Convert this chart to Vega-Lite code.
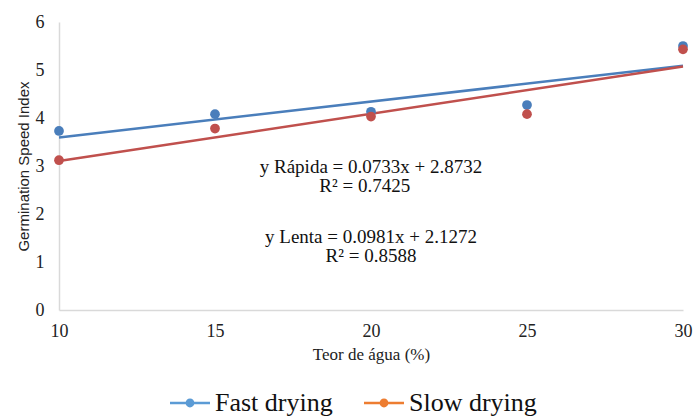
{
  "$schema": "https://vega.github.io/schema/vega-lite/v6.json",
  "width": 624,
  "height": 288,
  "autosize": "none",
  "padding": {"left": 59, "top": 22, "right": 11, "bottom": 107},
  "background": "white",
  "config": {
    "view": {"stroke": null},
    "axis": {
      "grid": false,
      "ticks": false,
      "domainColor": "#d9d9d9",
      "domainWidth": 1.5,
      "labelFont": "Liberation Serif",
      "labelFontSize": 18,
      "labelColor": "#222222",
      "titleColor": "#222222",
      "titleFontWeight": "normal"
    }
  },
  "data": {
    "values": [
      {"series": "Fast drying", "x": 10, "y": 3.73},
      {"series": "Fast drying", "x": 15, "y": 4.08},
      {"series": "Fast drying", "x": 20, "y": 4.13},
      {"series": "Fast drying", "x": 25, "y": 4.27},
      {"series": "Fast drying", "x": 30, "y": 5.5},
      {"series": "Slow drying", "x": 10, "y": 3.12},
      {"series": "Slow drying", "x": 15, "y": 3.78},
      {"series": "Slow drying", "x": 20, "y": 4.03},
      {"series": "Slow drying", "x": 25, "y": 4.08},
      {"series": "Slow drying", "x": 30, "y": 5.43}
    ]
  },
  "encoding": {
    "x": {
      "field": "x",
      "type": "quantitative",
      "scale": {"domain": [10, 30], "nice": false, "zero": false},
      "axis": {
        "values": [10, 15, 20, 25, 30],
        "title": "Teor de água (%)",
        "titleFont": "Liberation Serif",
        "titleFontSize": 17,
        "labelPadding": 12,
        "titlePadding": 6,
        "labelFlush": false
      }
    },
    "y": {
      "field": "y",
      "type": "quantitative",
      "scale": {"domain": [0, 6], "nice": false},
      "axis": {
        "values": [0, 1, 2, 3, 4, 5, 6],
        "title": "Germination Speed Index",
        "titleFont": "Liberation Sans",
        "titleFontSize": 15,
        "labelPadding": 15,
        "titlePadding": 4
      }
    }
  },
  "layer": [
    {
      "mark": {"type": "point", "filled": true, "size": 0, "opacity": 1},
      "encoding": {
        "color": {
          "field": "series",
          "type": "nominal",
          "scale": {"domain": ["Fast drying", "Slow drying"], "range": ["#5B9BD5", "#ED7D31"]},
          "legend": {
            "title": null,
            "orient": "none",
            "direction": "horizontal",
            "legendX": 111,
            "legendY": 361,
            "padding": 0,
            "symbolType": "M-1,-0.06L1,-0.06L1,0.06L-1,0.06Z M0.22,0A0.22,0.22,0,1,1,-0.22,0A0.22,0.22,0,1,1,0.22,0Z",
            "symbolSize": 1600,
            "symbolStrokeWidth": 0,
            "symbolOpacity": 1,
            "labelFont": "Liberation Serif",
            "labelFontSize": 26,
            "labelColor": "#111111",
            "labelOffset": 5,
            "columnPadding": 31
          }
        }
      }
    },
    {
      "encoding": {
        "color": {
          "field": "series",
          "type": "nominal",
          "scale": {"domain": ["Fast drying", "Slow drying"], "range": ["#4A7EBB", "#C0504D"]},
          "legend": null
        }
      },
      "layer": [
        {
          "transform": [{"regression": "y", "on": "x", "groupby": ["series"], "extent": [10, 30]}],
          "mark": {"type": "line", "strokeWidth": 2.5}
        },
        {
          "mark": {"type": "circle", "size": 95, "opacity": 1}
        }
      ]
    },
    {
      "data": {
        "values": [
          {"x": 20.0, "y": 2.98, "label": "y Rápida = 0.0733x + 2.8732"},
          {"x": 19.8, "y": 2.58, "label": "R² = 0.7425"},
          {"x": 20.0, "y": 1.52, "label": "y Lenta = 0.0981x + 2.1272"},
          {"x": 20.0, "y": 1.12, "label": "R² = 0.8588"}
        ]
      },
      "mark": {"type": "text", "font": "Liberation Serif", "fontSize": 19, "align": "center", "baseline": "middle", "color": "#111111"},
      "encoding": {"text": {"field": "label"}}
    }
  ],
  "resolve": {"scale": {"color": "independent"}}
}
